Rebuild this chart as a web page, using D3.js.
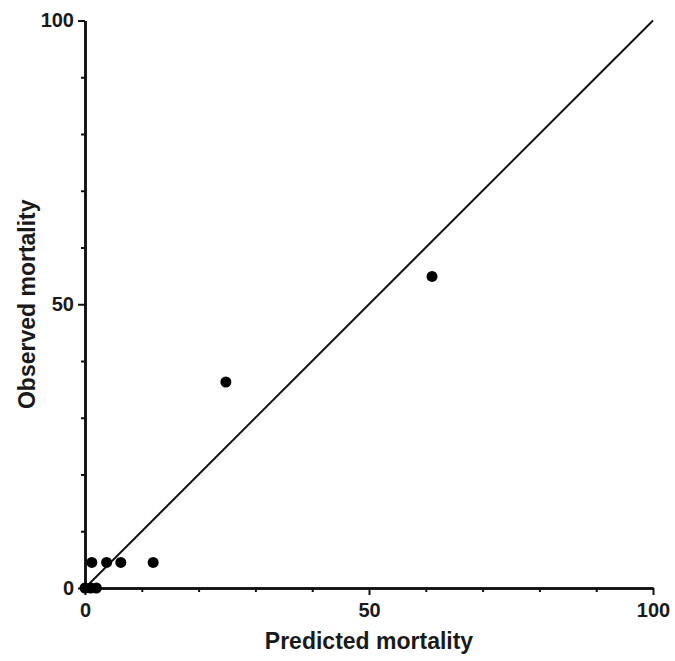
<!DOCTYPE html>
<html>
<head>
<meta charset="utf-8">
<script src="https://cdn.jsdelivr.net/npm/d3@7"></script>
<style>
  body { margin: 0; background: #fff; }
  text { font-family: "Liberation Sans", Arial, sans-serif; font-weight: bold; fill: #1a1a1a; }
</style>
</head>
<body>
<div id="chart"></div>
<script>
// predicted vs observed mortality (%)
const predicted = [0, 1, 2, 1.2, 3.8, 6.3, 12.0, 24.8, 61.1];
const observed  = [0, 0, 0, 4.5, 4.5, 4.5, 4.5, 36.3, 54.9];
const majorTicks = [0, 50, 100];
const minorTicks = [10, 20, 30, 40, 60, 70, 80, 90];
const identity = [0, 100];

const width = 675, height = 661;
const margin = { top: 20.5, right: 22, bottom: 73, left: 85 };

const svg = d3.select('#chart').append('svg')
  .attr('width', width)
  .attr('height', height);

const x = d3.scaleLinear().domain([0, 100]).range([margin.left, width - margin.right]);
const y = d3.scaleLinear().domain([0, 100]).range([height - margin.bottom, margin.top]);

// identity line
svg.append('line')
  .attr('x1', x(identity[0])).attr('y1', y(identity[0]))
  .attr('x2', x(identity[1])).attr('y2', y(identity[1]))
  .attr('stroke', '#111')
  .attr('stroke-width', 2);

// axes: major ticks with labels, minor ticks without
function styleAxis(g) {
  g.select('.domain').attr('stroke', '#111').attr('stroke-width', 2.5);
  g.selectAll('.tick line').attr('stroke', '#111').attr('stroke-width', 2);
  g.selectAll('.tick text')
    .style('font-size', '20px')
    .style('font-family', '"Liberation Sans", Arial, sans-serif')
    .style('font-weight', 'bold')
    .attr('fill', '#1a1a1a');
}

svg.append('g')
  .attr('transform', `translate(0,${y(0)})`)
  .call(d3.axisBottom(x).tickValues(minorTicks).tickSize(4).tickFormat('').tickSizeOuter(0))
  .call(styleAxis);

svg.append('g')
  .attr('transform', `translate(0,${y(0)})`)
  .call(d3.axisBottom(x).tickValues(majorTicks).tickSize(7).tickPadding(8).tickSizeOuter(0))
  .call(styleAxis);

svg.append('g')
  .attr('transform', `translate(${x(0)},0)`)
  .call(d3.axisLeft(y).tickValues(minorTicks).tickSize(4).tickFormat('').tickSizeOuter(0))
  .call(styleAxis);

svg.append('g')
  .attr('transform', `translate(${x(0)},0)`)
  .call(d3.axisLeft(y).tickValues(majorTicks).tickSize(7).tickPadding(4).tickSizeOuter(0))
  .call(styleAxis);

// points
svg.append('g')
  .selectAll('circle')
  .data(predicted)
  .join('circle')
  .attr('cx', d => x(d))
  .attr('cy', (d, i) => y(observed[i]))
  .attr('r', 5.5)
  .attr('fill', '#000');

// axis titles
svg.append('text')
  .attr('x', x(50))
  .attr('y', 649)
  .attr('text-anchor', 'middle')
  .style('font-size', '23px')
  .text('Predicted mortality');

svg.append('text')
  .attr('transform', `translate(35,${y(50)}) rotate(-90)`)
  .attr('text-anchor', 'middle')
  .style('font-size', '23px')
  .text('Observed mortality');
</script>
</body>
</html>
